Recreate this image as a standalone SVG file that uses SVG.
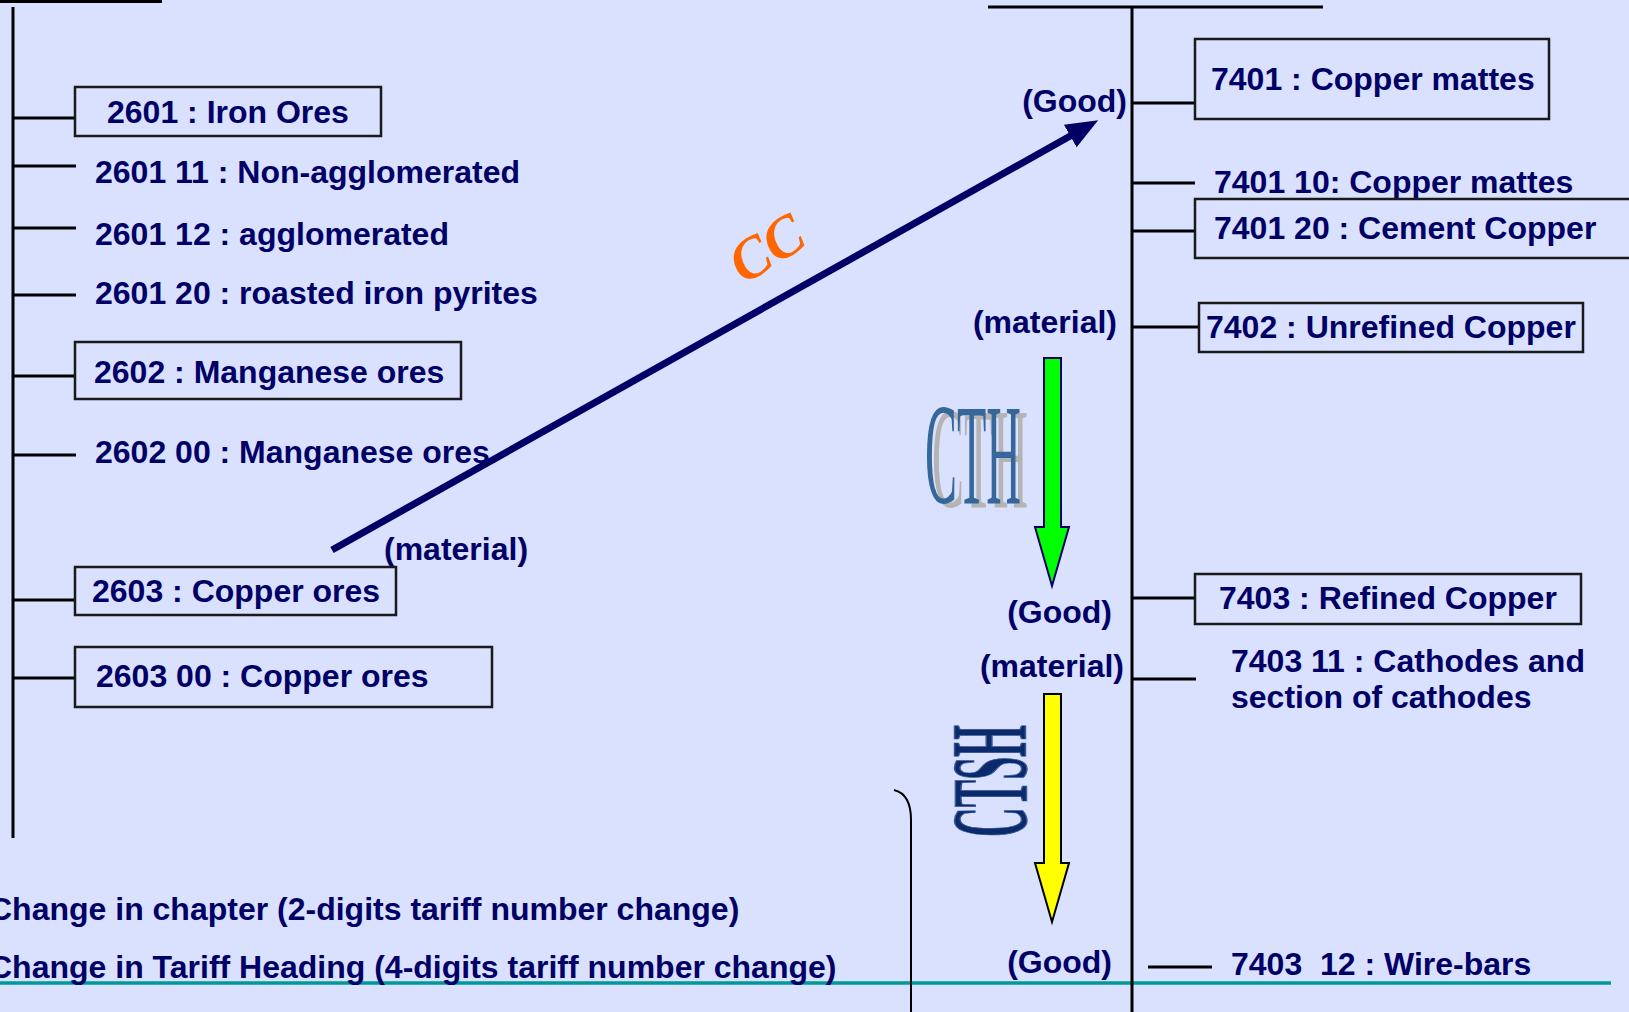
<svg xmlns="http://www.w3.org/2000/svg" width="1629" height="1012" viewBox="0 0 1629 1012">
<defs>
<style>
.t{font-family:"Liberation Sans",Arial,sans-serif;font-weight:bold;font-size:32px;fill:#000066}
.r{text-anchor:end}
.box{fill:none;stroke:#1a1a1a;stroke-width:2.5}
.ln{stroke:#000;stroke-width:3;fill:none}
</style>
<marker id="ah" markerUnits="userSpaceOnUse" markerWidth="34" markerHeight="30" refX="2" refY="13" orient="auto" viewBox="0 0 34 26">
<path d="M0,0 L32,13 L0,26 z" fill="#000066"/>
</marker>
</defs>
<rect width="1629" height="1012" fill="#D9E1FE"/>
<line x1="0" y1="983" x2="1611" y2="983" stroke="#009999" stroke-width="3.5"/>

<g id="connectors">
<line class="ln" x1="0" y1="1.5" x2="162" y2="1.5"/>
<line class="ln" x1="13" y1="7" x2="13" y2="838"/>
<line class="ln" x1="13" y1="118" x2="75" y2="118"/>
<line class="ln" x1="13" y1="166" x2="76" y2="166"/>
<line class="ln" x1="13" y1="228" x2="76" y2="228"/>
<line class="ln" x1="13" y1="295" x2="76" y2="295"/>
<line class="ln" x1="13" y1="376" x2="75" y2="376"/>
<line class="ln" x1="13" y1="455" x2="76" y2="455"/>
<line class="ln" x1="13" y1="600" x2="75" y2="600"/>
<line class="ln" x1="13" y1="678" x2="75" y2="678"/>
<line class="ln" x1="988" y1="7" x2="1323" y2="7"/>
<line class="ln" x1="1132" y1="7" x2="1132" y2="1012"/>
<line class="ln" x1="1132" y1="103" x2="1195" y2="103"/>
<line class="ln" x1="1132" y1="183" x2="1195" y2="183"/>
<line class="ln" x1="1132" y1="231" x2="1195" y2="231"/>
<line class="ln" x1="1132" y1="327" x2="1199" y2="327"/>
<line class="ln" x1="1132" y1="598" x2="1195" y2="598"/>
<line class="ln" x1="1132" y1="679" x2="1196" y2="679"/>
<line class="ln" x1="1148" y1="967" x2="1212" y2="967"/>
<path d="M894,790 Q911,794 911,820 L911,1012" fill="none" stroke="#000" stroke-width="2"/>
<line x1="332" y1="550" x2="1072" y2="135" stroke="#000066" stroke-width="7" marker-end="url(#ah)"/>
<polygon points="1044,358 1061,358 1061,527 1069,527 1052,586 1035,527 1044,527" fill="#00FF00" stroke="#000066" stroke-width="2"/>
<polygon points="1044,694 1061,694 1061,863 1069,863 1052,922 1035,863 1044,863" fill="#FFFF00" stroke="#000" stroke-width="2"/>
</g>

<g id="n2601"><rect class="box" x="75" y="87" width="306" height="49"/><text class="t" x="107" y="123">2601 : Iron Ores</text></g>
<g id="n260111"><text class="t" x="95" y="183">2601 11 : Non-agglomerated</text></g>
<g id="n260112"><text class="t" x="95" y="245">2601 12 : agglomerated</text></g>
<g id="n260120"><text class="t" x="95" y="304">2601 20 : roasted iron pyrites</text></g>
<g id="n2602"><rect class="box" x="75" y="342" width="386" height="57"/><text class="t" x="94" y="383">2602 : Manganese ores</text></g>
<g id="n260200"><text class="t" x="95" y="463">2602 00 : Manganese ores</text></g>
<g id="lbl-material-left"><text class="t" x="384" y="560">(material)</text></g>
<g id="n2603"><rect class="box" x="75" y="567" width="321" height="48"/><text class="t" x="92" y="602">2603 : Copper ores</text></g>
<g id="n260300"><rect class="box" x="75" y="647" width="417" height="60"/><text class="t" x="96" y="687">2603 00 : Copper ores</text></g>

<g id="legend">
<text class="t" x="-11" y="920">Change in chapter (2-digits tariff number change)</text>
<text class="t" x="-11" y="978">Change in Tariff Heading (4-digits tariff number change)</text>
</g>

<g id="cc"><text x="0" y="0" transform="translate(744,285) rotate(-32)" font-family="'Liberation Serif',serif" font-weight="bold" font-style="italic" font-size="58" fill="#FF6600">CC</text></g>

<g id="cth">
<text transform="translate(932,507) scale(0.8,2.4)" font-family="'Liberation Serif',serif" font-size="60" fill="#B4B4B4">CTH</text>
<text transform="translate(925,503) scale(0.8,2.4)" font-family="'Liberation Serif',serif" font-size="60" fill="#36679A">CTH</text>
</g>
<g id="ctsh">
<text transform="translate(1026,837) rotate(-90) scale(0.686,1.81)" font-family="'Liberation Serif',serif" font-weight="bold" font-size="60" fill="#0B2A6B" stroke="#3A5A9A" stroke-width="0.8">CTSH</text>
</g>

<g id="lbl-good-top"><text class="t r" x="1127" y="112">(Good)</text></g>
<g id="n7401"><rect class="box" x="1195" y="39" width="354" height="80"/><text class="t" x="1211" y="90">7401 : Copper mattes</text></g>
<g id="n740110"><text class="t" x="1214" y="193">7401 10: Copper mattes</text></g>
<g id="n740120"><rect class="box" x="1195" y="199" width="436" height="59"/><text class="t" x="1214" y="239">7401 20 : Cement Copper</text></g>
<g id="lbl-material-r1"><text class="t r" x="1117" y="333">(material)</text></g>
<g id="n7402"><rect class="box" x="1199" y="303" width="384" height="49"/><text class="t" x="1206" y="338">7402 : Unrefined Copper</text></g>
<g id="lbl-good-mid"><text class="t r" x="1112" y="623">(Good)</text></g>
<g id="n7403"><rect class="box" x="1195" y="574" width="386" height="50"/><text class="t" x="1219" y="609">7403 : Refined Copper</text></g>
<g id="lbl-material-r2"><text class="t r" x="1124" y="677">(material)</text></g>
<g id="n740311"><text class="t" x="1231" y="672">7403 11 : Cathodes and</text><text class="t" x="1231" y="708">section of cathodes</text></g>
<g id="lbl-good-bot"><text class="t r" x="1112" y="973">(Good)</text></g>
<g id="n740312"><text class="t" x="1231" y="975" style="white-space:pre">7403  12 : Wire-bars</text></g>
</svg>
